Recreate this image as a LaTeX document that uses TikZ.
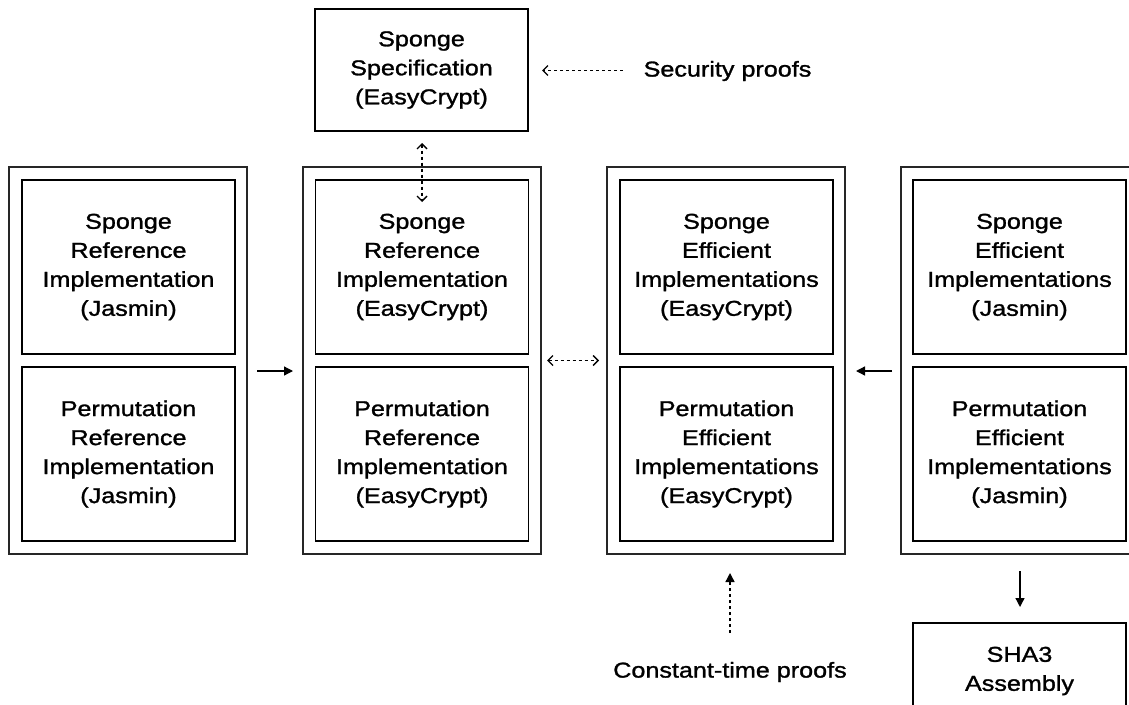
\documentclass[tikz,border=0pt]{standalone}
\usepackage{fontspec}
\setmainfont{Liberation Sans}[FakeStretch=1.17,FakeBold=1.3]
\usetikzlibrary{arrows.meta}
\begin{document}
\begin{tikzpicture}[x=1pt,y=-1pt,
  every node/.style={font=\fontsize{21.5}{29}\selectfont, align=center, inner sep=0pt, outer sep=0pt},
  outerbox/.style={draw=black!85, line width=1.1pt, minimum width=238pt, minimum height=387pt},
  innerbox/.style={draw=black, line width=1.3pt, minimum width=213pt, minimum height=174pt},
  plainbox/.style={draw=black, line width=1.3pt, minimum width=213pt},
  solidarrow/.style={line width=1.3pt, -{Triangle[length=9pt,width=9pt]}},
  dotline/.style={line width=1.4pt, dash pattern=on 3pt off 3pt},
  openhead/.style={{Straight Barb[length=5pt,width=10pt]}-{Straight Barb[length=5pt,width=10pt]}}
]
\useasboundingbox (0,0) rectangle (1129,704);
\clip (0,0) rectangle (1129,704);

% top specification box
\node[plainbox, minimum height=122pt] (spec) at (421.5,70) {Sponge\\Specification\\(EasyCrypt)};
\node (secproofs) at (727.5,71) {Security proofs};

% column 1
\node[outerbox] (c1) at (128,360.5) {};
\node[innerbox] (c1a) at (128.5,267) {Sponge\\Reference\\Implementation\\(Jasmin)};
\node[innerbox] (c1b) at (128.5,454) {Permutation\\Reference\\Implementation\\(Jasmin)};

% column 2
\node[outerbox] (c2) at (422,360.5) {};
\node[innerbox] (c2a) at (422,267) {Sponge\\Reference\\Implementation\\(EasyCrypt)};
\node[innerbox] (c2b) at (422,454) {Permutation\\Reference\\Implementation\\(EasyCrypt)};

% column 3
\node[outerbox] (c3) at (726,360.5) {};
\node[innerbox] (c3a) at (726.5,267) {Sponge\\Efficient\\Implementations\\(EasyCrypt)};
\node[innerbox] (c3b) at (726.5,454) {Permutation\\Efficient\\Implementations\\(EasyCrypt)};

% column 4 (clipped at right edge)
\node[outerbox] (c4) at (1020,360.5) {};
\node[innerbox] (c4a) at (1019.5,267) {Sponge\\Efficient\\Implementations\\(Jasmin)};
\node[innerbox] (c4b) at (1019.5,454) {Permutation\\Efficient\\Implementations\\(Jasmin)};

% SHA3 box
\node[plainbox, minimum height=96pt] (sha) at (1019.5,671) {SHA3\\Assembly};

\node (ctproofs) at (730,672) {Constant-time proofs};

% connectors
\draw[dotline, -{Straight Barb[length=5pt,width=10pt]}] ([xshift=-21pt,yshift=0.5pt]secproofs.west) -- ([xshift=14pt,yshift=-0.5pt]spec.east);
\draw[dotline, openhead] ([xshift=0.5pt,yshift=-12pt]spec.south) -- ([yshift=-22pt]c2a.north);
\draw[solidarrow] ([xshift=10pt,yshift=-10.5pt]c1.east) -- ([xshift=-10pt,yshift=-10.5pt]c2.west);
\draw[dotline, openhead] ([xshift=6pt]c2.east) -- ([xshift=-8pt]c3.west);
\draw[solidarrow] ([xshift=-9pt,yshift=-10.5pt]c4.west) -- ([xshift=11pt,yshift=-10.5pt]c3.east);
\draw[solidarrow] ([yshift=-17pt]c4.south) -- ([xshift=0.5pt,yshift=16pt]sha.north);
\draw[dotline, -{Triangle[length=9pt,width=9pt]}] ([xshift=4pt,yshift=-79pt]c3.south) -- ([xshift=4pt,yshift=-19pt]c3.south);
\end{tikzpicture}
\end{document}
